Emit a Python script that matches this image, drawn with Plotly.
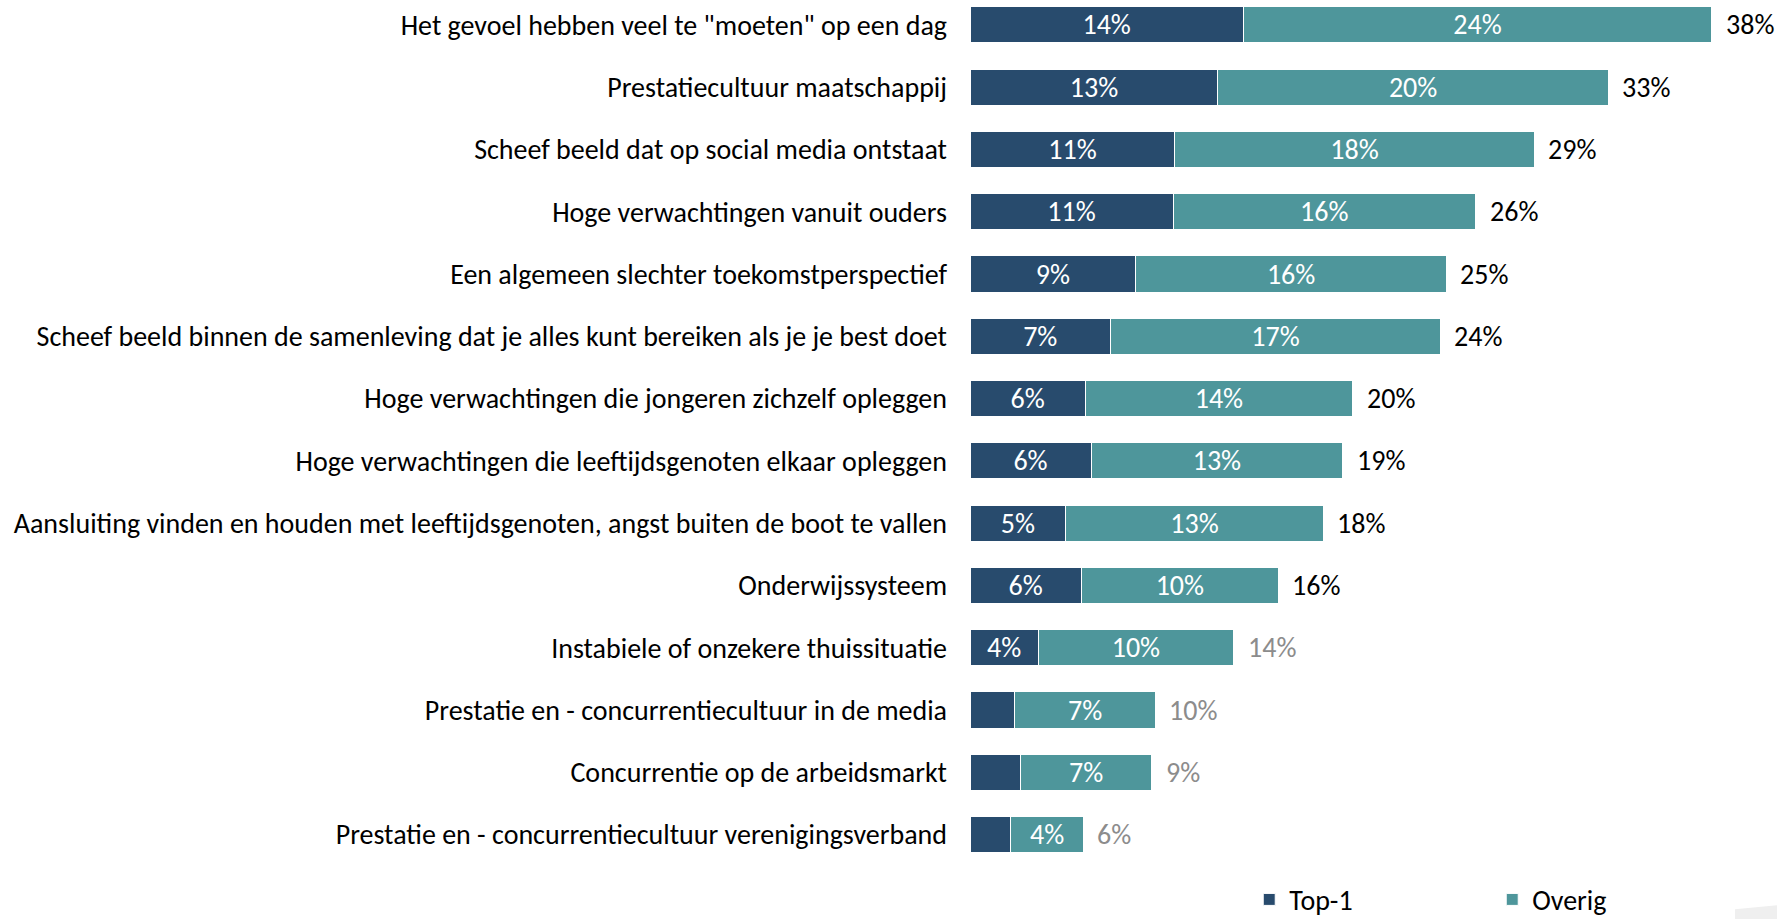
import plotly.graph_objects as go

categories = [
    'Het gevoel hebben veel te "moeten" op een dag',
    "Prestatiecultuur maatschappij",
    "Scheef beeld dat op social media ontstaat",
    "Hoge verwachtingen vanuit ouders",
    "Een algemeen slechter toekomstperspectief",
    "Scheef beeld binnen de samenleving dat je alles kunt bereiken als je je best doet",
    "Hoge verwachtingen die jongeren zichzelf opleggen",
    "Hoge verwachtingen die leeftijdsgenoten elkaar opleggen",
    "Aansluiting vinden en houden met leeftijdsgenoten, angst buiten de boot te vallen",
    "Onderwijssysteem",
    "Instabiele of onzekere thuissituatie",
    "Prestatie en - concurrentiecultuur in de media",
    "Concurrentie op de arbeidsmarkt",
    "Prestatie en - concurrentiecultuur verenigingsverband",
]

# shares in %
top1 = [14.0, 12.7, 10.5, 10.4, 8.5, 7.2, 5.9, 6.2, 4.9, 5.7, 3.5, 2.3, 2.6, 2.1]
overig = [24.0, 20.0, 18.4, 15.5, 15.9, 16.9, 13.7, 12.9, 13.2, 10.1, 10.0, 7.2, 6.7, 3.7]

# printed labels
top1_labels = ["14%", "13%", "11%", "11%", "9%", "7%", "6%", "6%", "5%", "6%", "4%", "", "", ""]
overig_labels = ["24%", "20%", "18%", "16%", "16%", "17%", "14%", "13%", "13%", "10%", "10%", "7%", "7%", "4%"]
total_labels = ["38%", "33%", "29%", "26%", "25%", "24%", "20%", "19%", "18%", "16%", "14%", "10%", "9%", "6%"]

NAVY = "#284B6D"
TEAL = "#4E969B"
FONT = "Carlito, Calibri, sans-serif"
SIZE = 28

fig = go.Figure()
fig.add_trace(go.Bar(
    name="Top-1", y=categories, x=top1, orientation="h",
    marker=dict(color=NAVY, line=dict(color="white", width=1)),
    text=top1_labels, textposition="inside", insidetextanchor="middle",
    textangle=0, textfont=dict(color="white", size=SIZE, family=FONT),
))
fig.add_trace(go.Bar(
    name="Overig", y=categories, x=overig, orientation="h",
    marker=dict(color=TEAL, line=dict(color="white", width=1)),
    text=overig_labels, textposition="inside", insidetextanchor="middle",
    textangle=0, textfont=dict(color="white", size=SIZE, family=FONT),
))

totals = [a + b for a, b in zip(top1, overig)]
for i, (cat, tot, lab) in enumerate(zip(categories, totals, total_labels)):
    fig.add_annotation(
        x=tot, y=cat, text=lab, showarrow=False, xanchor="left", xshift=12,
        font=dict(size=SIZE, family=FONT, color="#000000" if i < 10 else "#8C8C8C"),
    )

# faint slide decoration in the bottom-right corner
fig.add_shape(
    type="path", xref="paper", yref="paper",
    path="M 0.82 -0.054 L 1.0 -0.038 L 1.0 -0.054 Z",
    fillcolor="#EFEFEF", line=dict(width=0), layer="below",
)

fig.update_layout(
    barmode="stack",
    bargap=0.42,
    width=1777, height=919,
    margin=dict(l=970, r=0, t=0, b=47, autoexpand=False),
    plot_bgcolor="white", paper_bgcolor="white",
    font=dict(family=FONT, size=SIZE, color="#000000"),
    uniformtext=dict(minsize=SIZE, mode="show"),
    showlegend=True,
    legend=dict(
        orientation="h", xref="container", yref="container",
        x=0.703, xanchor="left", y=0.021, yanchor="middle",
        entrywidth=198, entrywidthmode="pixels",
        font=dict(size=SIZE, family=FONT, color="#000000"),
        itemwidth=30, traceorder="normal",
    ),
)
fig.update_xaxes(range=[0, 41.34], visible=False, fixedrange=True)
fig.update_yaxes(
    range=[13.6, -0.4], showgrid=False, zeroline=False, showline=False,
    ticks="", ticklabelstandoff=22, automargin=False,
    tickfont=dict(size=SIZE, family=FONT, color="#000000"),
)

# drop the browser's default body margin so the figure sits at the window origin
fig.write_html(
    "out.html",
    config={"displayModeBar": False},
    post_script="document.body.style.margin = '0';",
)
